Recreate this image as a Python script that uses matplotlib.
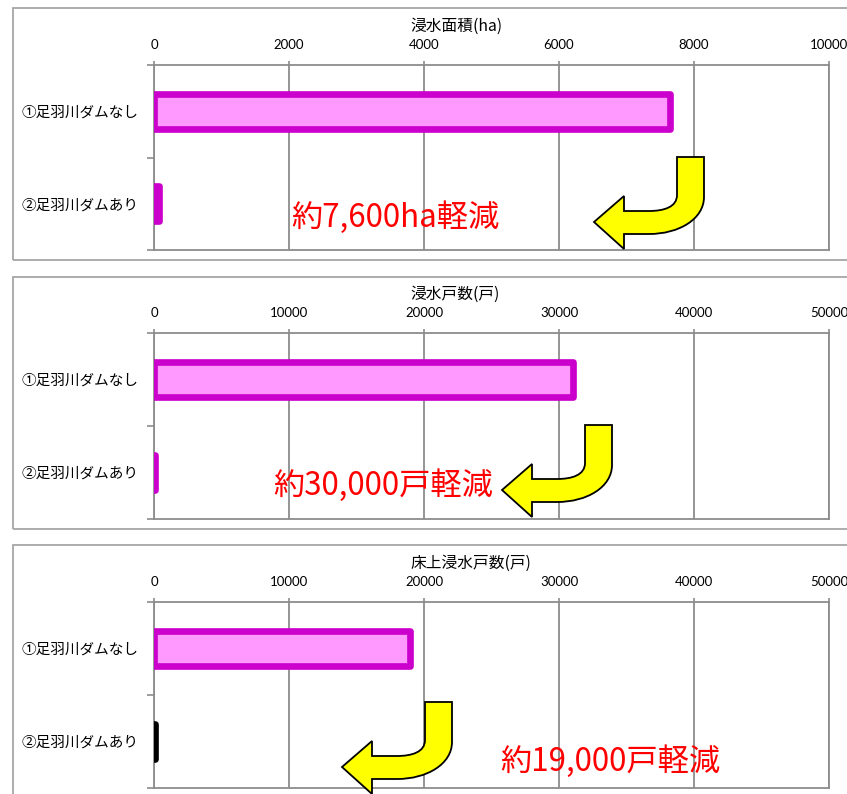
import matplotlib
matplotlib.use('Agg')
import matplotlib.pyplot as plt
from matplotlib.path import Path
from matplotlib.patches import PathPatch, Rectangle

plt.rcParams['font.family'] = ['Noto Sans CJK JP', 'DejaVu Sans']

categories = ['①足羽川ダムなし', '②足羽川ダムあり']
area_ha = [7650, 80]
houses = [31000, 70]
floor_houses = [18950, 100]

titles = ['浸水面積(ha)', '浸水戸数(戸)', '床上浸水戸数(戸)']
notes = ['約7,600ha軽減', '約30,000戸軽減', '約19,000戸軽減']
xmax = [10000, 50000, 50000]
xstep = [2000, 10000, 10000]

W, H = 847, 794
fig = plt.figure(figsize=(W / 100, H / 100), dpi=100)

grey = '#8c8c8c'
pink = '#ff99ff'
magenta = '#cc00cc'

# panel layout in pixels: (box top, box bottom, axes top, axes bottom)
panels = [(8, 260, 65, 250), (277, 529, 333, 519), (545, 820, 602, 788)]
title_pos = [(456, 26), (455, 294), (471, 563)]
note_pos = [(291, 218), (273, 486), (500, 762)]
arrow_org = [(704, 157), (612, 425), (452, 702)]
ax_left, ax_right = 154, 829


def fx(px):
    return px / W


def fy(py):
    return 1 - py / H


def curved_arrow(ox, oy):
    pts = [(0, 0), (0, 40), (0, 62), (-25, 77), (-55, 77), (-80, 77), (-80, 92),
           (-110, 65), (-80, 39), (-80, 54), (-55, 54), (-40, 54), (-27, 50),
           (-27, 38), (-27, 0), (0, 0)]
    codes = [Path.MOVETO, Path.LINETO, Path.CURVE4, Path.CURVE4, Path.CURVE4,
             Path.LINETO, Path.LINETO, Path.LINETO, Path.LINETO, Path.LINETO,
             Path.LINETO, Path.CURVE4, Path.CURVE4, Path.CURVE4, Path.LINETO,
             Path.CLOSEPOLY]
    verts = [(fx(ox + x), fy(oy + y)) for x, y in pts]
    return PathPatch(Path(verts, codes), facecolor='#ffff00', edgecolor='black',
                     lw=1.3, transform=fig.transFigure, zorder=5)


datasets = [area_ha, houses, floor_houses]
face_cols = [[pink, magenta], [pink, magenta], [pink, 'black']]
edge_cols = [[magenta, magenta], [magenta, magenta], [magenta, 'black']]

for i, vals in enumerate(datasets):
    btop, bbot, atop, abot = panels[i]
    fig.patches.append(Rectangle((fx(13), fy(bbot)), fx(900) - fx(13), fy(btop) - fy(bbot),
                                 transform=fig.transFigure, fill=False,
                                 edgecolor='#a6a6a6', lw=1.3))
    ax = fig.add_axes([fx(ax_left), fy(abot), fx(ax_right) - fx(ax_left), fy(atop) - fy(abot)])
    ax.barh(range(len(categories)), vals, height=0.38, color=face_cols[i],
            edgecolor=edge_cols[i], linewidth=4.8, joinstyle='round', zorder=3)
    ax.set_xlim(0, xmax[i])
    ax.set_ylim(1.5, -0.5)
    ax.set_xticks(range(0, xmax[i] + 1, xstep[i]))
    ax.xaxis.tick_top()
    ax.tick_params(axis='x', length=3, width=1.2, color=grey, pad=7, labelsize=9.5)
    for lab in ax.get_xticklabels():
        lab.set_family(['Lato', 'DejaVu Sans'])
    ax.set_yticks(range(len(categories)))
    ax.set_yticklabels(categories, fontsize=10.5)
    ax.tick_params(axis='y', length=0, pad=11)
    ax.set_yticks([-0.5, 0.5, 1.5], minor=True)
    ax.tick_params(axis='y', which='minor', length=5, width=1.2, color=grey)
    ax.grid(axis='x', color=grey, lw=1.3, zorder=0)
    for sp in ax.spines.values():
        sp.set_color(grey)
        sp.set_linewidth(1.3)
    tx, ty = title_pos[i]
    fig.text(fx(tx), fy(ty), titles[i], ha='center', va='center', fontsize=11.3)
    nx, ny = note_pos[i]
    fig.text(fx(nx), fy(ny), notes[i], ha='left', va='center', fontsize=22.5,
             color='#ff0000', zorder=6)
    fig.patches.append(curved_arrow(*arrow_org[i]))

fig.savefig('out.png', dpi=100)
